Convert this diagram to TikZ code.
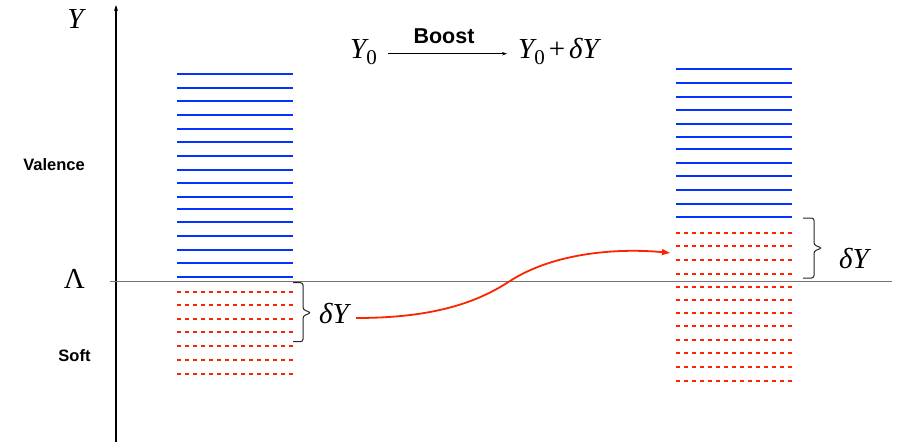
\documentclass[tikz,border=0pt]{standalone}
\usepackage{fontspec}
\newfontfamily\helv{Liberation Sans}
\newfontfamily\tnr{Liberation Serif}
\usetikzlibrary{arrows.meta}
\definecolor{kblue}{RGB}{4,51,255}
\definecolor{kred}{RGB}{250,36,0}
\newcommand{\myY}{{\itshape Y}}
\newcommand{\myYo}{{\itshape Y}\raisebox{-0.24em}{\fontsize{21}{22}\selectfont 0}}
\begin{document}
\begin{tikzpicture}[x=1pt,y=-1pt,
  valence/.style={draw=kblue,line width=2pt},
  soft/.style={draw=kred,line width=2pt,dash pattern=on 4.3pt off 3.7pt},
  mathlbl/.style={font=\tnr\fontsize{29}{31}\selectfont,inner sep=0pt},
  word/.style={font=\helv\bfseries\fontsize{16.5}{18}\selectfont,inner sep=0pt},
  bigword/.style={font=\helv\bfseries\fontsize{21.5}{24}\selectfont,inner sep=0pt},
  bracket/.style={draw=black!85,line width=1pt,rounded corners=2.5pt}]
\useasboundingbox (0,0) rectangle (906,442);
% axis
\coordinate (axb) at (116,442);
\coordinate (axt) at (116,5);
\draw[line width=1.1pt,-{Stealth[length=6pt,width=4pt]}] (axb) -- (axt);
% Lambda line
\coordinate (ll) at (110,281);
\coordinate (lr) at (892,281);
\draw[black!55,line width=0.9pt] (ll) -- (lr);
% labels
\node[mathlbl,anchor=base] (ylab) at (75.5,28) {\myY};
\node[mathlbl,anchor=base] (lam) at (74.5,288) {Λ};
\node[word] (val) at (54,165) {Valence};
\node[word] (soft) at (74.5,356) {Soft};
% left stack
\foreach \y in {74,88,101,115,129,142,156,170,183,197,209,222,236,250,263,277}
  \draw[valence] (177,\y) -- (293,\y);
\foreach \y in {292.3,305.3,319.3,332.3,346,360,373.7}
  \draw[soft] (177,\y) -- (293,\y);
% right stack
\foreach \y in {69,83,96.7,110.3,123.7,137.3,149,162.7,176.3,190,203.7,217}
  \draw[valence] (676,\y) -- (792,\y);
\foreach \y in {232.7,246.3,260,273.7,287.3,300.3,312.7,326,339.7,353.3,367,381}
  \draw[soft] (676,\y) -- (792,\y);
% braces
\draw[bracket] (293,282.7) -- (303,282.7) -- (303,309.5) -- (311,312.7) -- (303,316) -- (303,341.7) -- (293,341.7);
\draw[bracket] (803,218) -- (814,218) -- (814,245) -- (822,248) -- (814,251) -- (814,278) -- (803,278);
\node[mathlbl,anchor=base] (dyl) at (334,323) {{\itshape δY}};
\node[mathlbl,anchor=base] (dyr) at (854,268) {{\itshape δY}};
% red arrow
\coordinate (arrS) at (356,318);
\coordinate (arrM) at (510,281);
\coordinate (arrE) at (671,253);
\draw[kred,line width=1.8pt,-{Latex[length=9pt,width=7pt]}] (arrS) .. controls (430,318) and (475,304) .. (arrM) .. controls (555,252) and (620,248) .. (arrE);
% top boost
\node[mathlbl,anchor=base west] (y0) at (350,58) {\myYo};
\node[mathlbl,anchor=base west] (y1) at (518,58) {\myYo\kern4pt+\kern4pt{\itshape δY}};
\coordinate (bs) at (388,53.7);
\coordinate (be) at (507,53.7);
\draw[line width=0.8pt,-{Stealth[length=5pt,width=3.5pt]}] (bs) -- (be);
\node[bigword] (boost) at (444,36) {Boost};
\end{tikzpicture}
\end{document}
